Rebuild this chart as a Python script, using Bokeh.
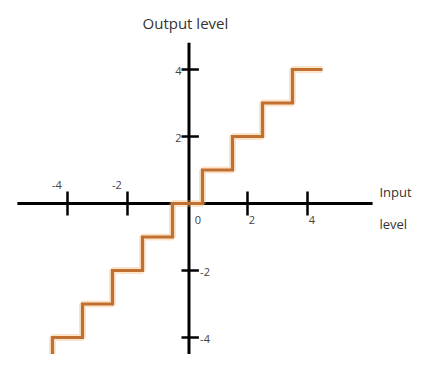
from bokeh.plotting import figure
from bokeh.models import Range1d
from bokeh.core.properties import value
from bokeh.embed import file_html
from bokeh.resources import INLINE

# ---- data ----
step_breaks = [-4.5, -3.5, -2.5, -1.5, -0.5, 0.5, 1.5, 2.5, 3.5, 4.5]
step_levels = [-4, -3, -2, -1, 0, 1, 2, 3, 4]
start_level = -4.9
x_ticks = [-4, -2, 2, 4]
x_tick_labels = ["-4", "-2", "2", "4"]
y_ticks = [4, 2, -2, -4]
y_tick_labels = ["4", "2", "-2", "-4"]
x_axis_extent = [-5.67, 6.17]
y_axis_extent = [-5.3, 4.8]

# build staircase path
xs = [step_breaks[0]]
ys = [start_level]
for i, lv in enumerate(step_levels):
    xs += [step_breaks[i], step_breaks[i + 1]]
    ys += [lv, lv]

p = figure(width=414, height=354, output_backend="svg", toolbar_location=None,
           x_range=Range1d(-6.233, 7.567), y_range=Range1d(-4.507, 6.06),
           x_axis_type=None, y_axis_type=None, min_border=0)
p.grid.visible = False
p.outline_line_color = None
p.background_fill_color = "white"

# axes lines
p.line(x_axis_extent, [0, 0], line_color="black", line_width=3)
p.line([0.05, 0.05], y_axis_extent, line_color="black", line_width=3)

# x ticks
p.segment(x0=x_ticks, y0=[-0.36] * len(x_ticks), x1=x_ticks, y1=[0.36] * len(x_ticks),
          line_color="black", line_width=2.5)
# y ticks
p.segment(x0=[-0.2] * len(y_ticks), y0=y_ticks, x1=[0.38] * len(y_ticks), y1=y_ticks,
          line_color="black", line_width=2.5)

# staircase (halo + line)
p.line(xs, ys, line_color="#F6B26B", line_width=7, line_alpha=0.35)
p.line(xs, ys, line_color="#C07030", line_width=3.2, line_join="miter")

font = value("Open Sans")
# x tick labels: negatives above, positives below
neg = [(t, l) for t, l in zip(x_ticks, x_tick_labels) if t < 0]
pos = [(t, l) for t, l in zip(x_ticks, x_tick_labels) if t > 0]
p.text(x=[t - 0.35 for t, _ in neg], y=[0.42] * len(neg), text=[l for _, l in neg],
       text_font=font, text_font_size="11px", text_color="#444",
       text_align="center", text_baseline="bottom")
p.text(x=[t + 0.15 for t, _ in pos] + [0.35], y=[-0.38] * (len(pos) + 1),
       text=[l for _, l in pos] + ["0"],
       text_font=font, text_font_size="11px", text_color="#444",
       text_align="center", text_baseline="top")
# y tick labels: positives left, negatives right
ypos = [(t, l) for t, l in zip(y_ticks, y_tick_labels) if t > 0]
yneg = [(t, l) for t, l in zip(y_ticks, y_tick_labels) if t < 0]
p.text(x=[-0.2] * len(ypos), y=[t - 0.05 for t, _ in ypos], text=[l for _, l in ypos],
       text_font=font, text_font_size="11px", text_color="#444",
       text_align="right", text_baseline="middle")
p.text(x=[0.42] * len(yneg), y=[t - 0.05 for t, _ in yneg], text=[l for _, l in yneg],
       text_font=font, text_font_size="11px", text_color="#444",
       text_align="left", text_baseline="middle")

# axis titles
p.text(x=[-0.07], y=[5.4], text=["Output level"], text_font=font, text_font_size="15px",
       text_color="#333", text_align="center", text_baseline="middle")
p.text(x=[6.4, 6.4], y=[0.33, -0.6], text=["Input", "level"], text_font=font,
       text_font_size="13px", text_color="#333", text_align="left", text_baseline="middle")

open("out.html", "w").write(file_html(p, INLINE))
